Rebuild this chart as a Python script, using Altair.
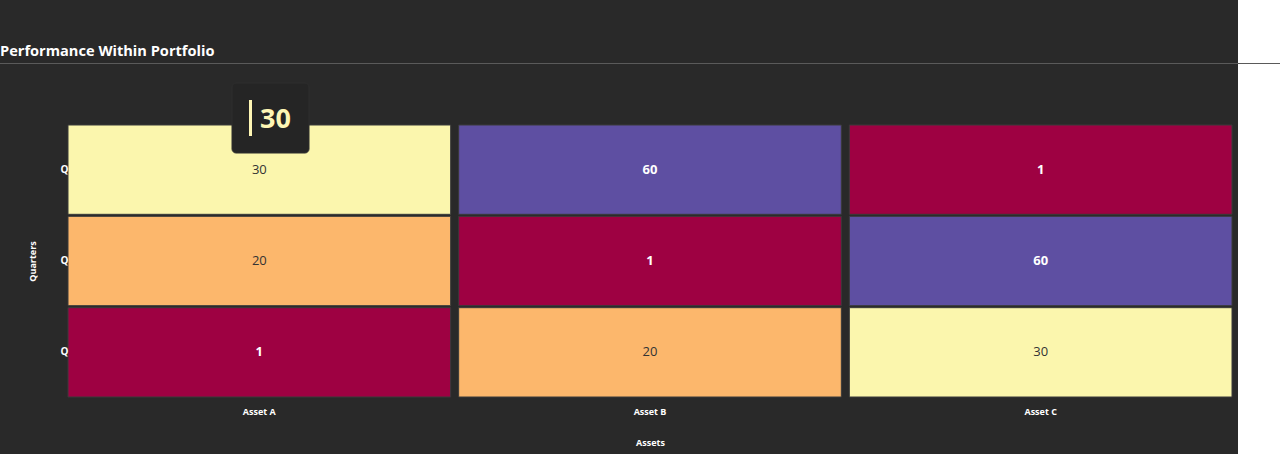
import altair as alt
import pandas as pd

assets = ["Asset A", "Asset B", "Asset C"]
quarters = ["Q1", "Q2", "Q3"]
asset_a = [30, 20, 1]
asset_b = [60, 1, 20]
asset_c = [1, 60, 30]

rows = []
for a, vals in zip(assets, [asset_a, asset_b, asset_c]):
    for q, v in zip(quarters, vals):
        rows.append({"Asset": a, "Quarter": q, "Value": v})
df = pd.DataFrame(rows)

BG = "#292929"
W, H = 1164, 272
PAD_L, PAD_T, PAD_R, PAD_B = 68, 125, 48, 57
FONT = "Open Sans"

x_enc = alt.X("Asset:N", sort=assets, title="Assets",
              scale=alt.Scale(paddingInner=0.0205, paddingOuter=0),
              axis=alt.Axis(labelAngle=0, labelColor="white", labelFontSize=9,
                            labelFontWeight="bold", labelFont=FONT, titleColor="white",
                            titleFontSize=9, titleFontWeight="bold", titleFont=FONT,
                            domain=False, ticks=False, labelPadding=10, titlePadding=22))
y_enc = alt.Y("Quarter:N", sort=quarters, title="Quarters",
              scale=alt.Scale(paddingInner=0.022, paddingOuter=0),
              axis=alt.Axis(labelColor="white", labelFontSize=10, labelFontWeight="bold",
                            labelFont=FONT, titleColor="white", titleFontSize=9,
                            titleFontWeight="bold", titleFont=FONT, domain=False,
                            ticks=False, labelPadding=0,
                            labelExpr="substring(datum.label, 0, 1)", titlePadding=23))

rects = alt.Chart(df).mark_rect(stroke="#3a3a3a", strokeWidth=1).encode(
    x=x_enc, y=y_enc,
    color=alt.Color("Value:Q", scale=alt.Scale(scheme="spectral", domain=[1, 60]), legend=None),
)

text_light = alt.Chart(df).transform_filter("datum.Value >= 15 && datum.Value <= 45").mark_text(
    fontSize=13, font=FONT, color="#333333"
).encode(x=alt.X("Asset:N", sort=assets), y=alt.Y("Quarter:N", sort=quarters), text="Value:Q")

text_dark = alt.Chart(df).transform_filter("datum.Value < 15 || datum.Value > 45").mark_text(
    fontSize=13, font=FONT, color="white", fontWeight="bold"
).encode(x=alt.X("Asset:N", sort=assets), y=alt.Y("Quarter:N", sort=quarters), text="Value:Q")

# page decorations: white strip at the right, rule under the title
deco = pd.DataFrame({"k": [0]})
white_strip = alt.Chart(deco).mark_rect(color="white").encode(
    x=alt.value(1238 - PAD_L), x2=alt.value(1280 - PAD_L + 2),
    y=alt.value(-PAD_T), y2=alt.value(454 - PAD_T + 2))
title_rule = alt.Chart(deco).mark_rule(color="#5a5a5a", strokeWidth=1).encode(
    x=alt.value(-PAD_L), x2=alt.value(1280 - PAD_L),
    y=alt.value(63.5 - PAD_T))
title_text = alt.Chart(deco).mark_text(
    text="Performance Within Portfolio", align="left", baseline="middle",
    fontSize=14.6, fontWeight="bold", font=FONT, color="white"
).encode(x=alt.value(-PAD_L), y=alt.value(52 - PAD_T))

# hover tooltip
tip_box = alt.Chart(deco).mark_rect(color="#252525", cornerRadius=4, stroke="#2e2e2e").encode(
    x=alt.value(232 - PAD_L), x2=alt.value(309 - PAD_L),
    y=alt.value(83 - PAD_T), y2=alt.value(153 - PAD_T))
tip_bar = alt.Chart(deco).mark_rect(color="#fef6b4").encode(
    x=alt.value(249 - PAD_L), x2=alt.value(252 - PAD_L),
    y=alt.value(100 - PAD_T), y2=alt.value(136 - PAD_T))
tip_text = alt.Chart(df).transform_filter(
    "datum.Asset == 'Asset A' && datum.Quarter == 'Q1'").mark_text(
    align="left", baseline="middle", fontSize=27, fontWeight="bold", font=FONT, color="#fef6b4"
).encode(x=alt.value(260 - PAD_L), y=alt.value(120 - PAD_T), text="Value:Q")

chart = alt.layer(
    rects, text_light, text_dark, white_strip, title_rule, title_text,
    tip_box, tip_bar, tip_text
).properties(
    width=W, height=H, background=BG,
    padding={"left": PAD_L, "top": PAD_T, "right": PAD_R, "bottom": PAD_B},
    autosize=alt.AutoSizeParams(type="none"),
).configure_view(stroke=None)

chart.save("out.html", embed_options={"renderer": "svg", "actions": False})
